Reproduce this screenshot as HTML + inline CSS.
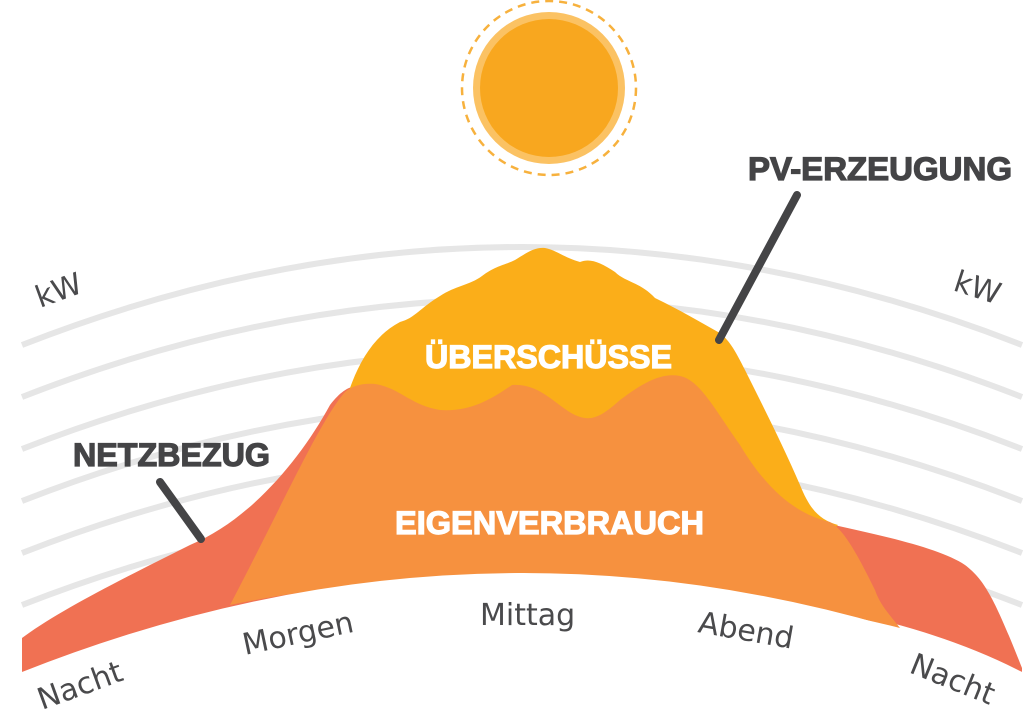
<!DOCTYPE html>
<html><head><meta charset="utf-8"><style>
html,body{margin:0;padding:0;background:#fff;width:1024px;height:712px;overflow:hidden}
svg{display:block}
.b{font-family:"Liberation Sans",sans-serif;font-weight:bold}
.r{font-family:"DejaVu Sans","Liberation Sans",sans-serif;fill:#4a4a4c}
</style></head><body>
<svg width="1024" height="712" viewBox="0 0 1024 712" xmlns="http://www.w3.org/2000/svg">
<g fill="none" stroke="#e6e6e6" stroke-width="6">
<path d="M22 345 Q522 149 1022 345"/>
<path d="M22 397 Q522 201 1022 397"/>
<path d="M22 449 Q522 253 1022 449"/>
<path d="M22 501 Q522 305 1022 501"/>
<path d="M22 553 Q522 357 1022 553"/>
<path d="M22 605 Q522 409 1022 605"/>
</g>
<path fill="#f07153" d="M22 672 L22 638 C60 610 120 580 190 545 C250 520 300 460 330 405 C340 392 348 387 356 386 L360 620 Z"/>
<path fill="#f07153" d="M820 522 C880 535 940 548 965 565 C985 580 995 600 1022 668 L1022 672 Q960 640 880 620 Z"/>
<path fill="#fbae19" d="M350 388 C360 360 375 335 400 322 C415 318 420 308 440 296 C455 286 470 285 482 276 C495 266 505 265 515 260 C528 252 535 247 545 248 C556 250 565 258 580 262 C590 258 600 262 615 272 C625 282 640 282 655 298 C680 310 700 322 718 332 C728 338 735 350 745 370 C765 410 785 450 800 485 C810 510 820 520 838 525 L800 560 L360 500 Z"/>
<path fill="#f6913f" d="M230 605 C280 510 320 420 345 392 C352 386 362 383 375 384 C400 388 410 405 440 410 C470 412 490 400 512 385 C540 383 555 405 575 415 C590 422 600 418 620 400 C640 385 660 372 680 376 C700 380 715 410 740 445 C770 495 800 515 830 522 C845 530 860 560 875 590 C880 605 890 615 900 628 Q750 590 522 573 Q350 580 230 605 Z"/>
<path fill="#fff" d="M0 676 L22 672 Q522 474 1022 672 L1024 674 L1024 712 L0 712 Z"/>
<circle cx="549" cy="88" r="87" fill="none" stroke="#f7b13d" stroke-width="2.5" stroke-dasharray="8 6"/>
<circle cx="549" cy="88" r="76" fill="#fbc263"/>
<circle cx="549" cy="88" r="69" fill="#f8a71f"/>
<g stroke="#444446" stroke-width="8" stroke-linecap="round">
<line x1="160" y1="482" x2="201" y2="539"/>
<line x1="797" y1="195" x2="719" y2="340"/>
</g>
<g stroke-width="1.2">
<text class="b" x="748" y="180" font-size="32" fill="#444446" stroke="#444446" textLength="264" lengthAdjust="spacingAndGlyphs">PV-ERZEUGUNG</text>
<text class="b" x="73" y="466" font-size="32" fill="#444446" stroke="#444446" textLength="197" lengthAdjust="spacingAndGlyphs">NETZBEZUG</text>
<text class="b" x="425" y="368" font-size="32" fill="#fff" stroke="#fff" textLength="247" lengthAdjust="spacingAndGlyphs">ÜBERSCHÜSSE</text>
<text class="b" x="395" y="534" font-size="32" fill="#fff" stroke="#fff" textLength="309" lengthAdjust="spacingAndGlyphs">EIGENVERBRAUCH</text>
</g>
<text class="r" font-size="30" transform="translate(40 308) rotate(-20)">kW</text>
<text class="r" font-size="30" transform="translate(952 290) rotate(18)">kW</text>
<text class="r" font-size="30" transform="translate(42 710) rotate(-20)">Nacht</text>
<text class="r" font-size="30" transform="translate(245 655) rotate(-12)">Morgen</text>
<text class="r" font-size="30" x="480" y="625">Mittag</text>
<text class="r" font-size="30" transform="translate(697 632) rotate(10)">Abend</text>
<text class="r" font-size="30" transform="translate(908 672) rotate(22)">Nacht</text>
</svg>
</body></html>
